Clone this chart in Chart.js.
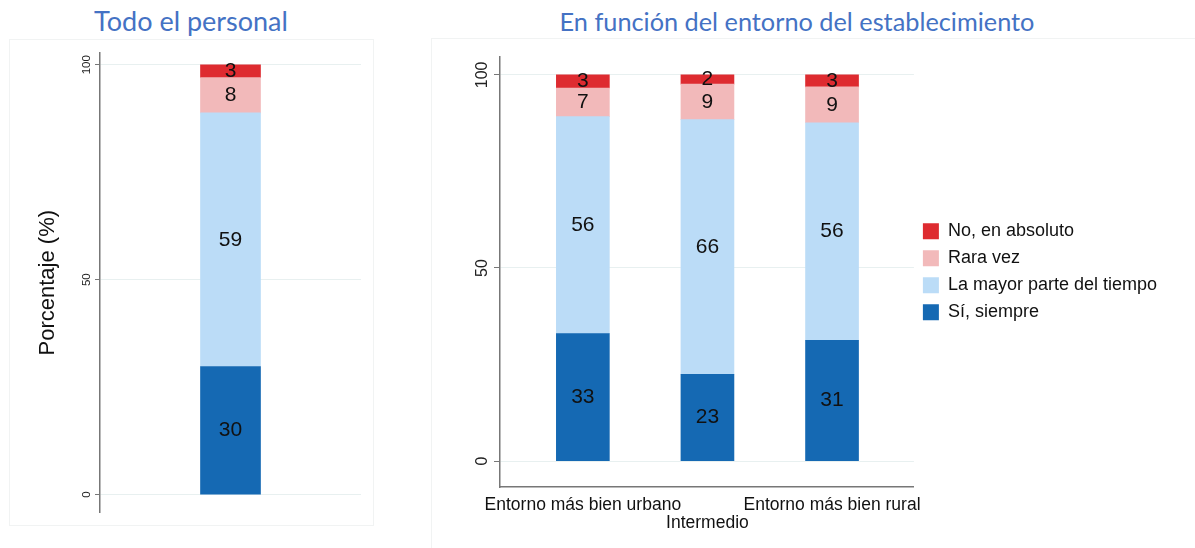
<!DOCTYPE html>
<html>
<head>
<meta charset="utf-8">
<script src="https://cdn.jsdelivr.net/npm/chart.js@4"></script>
<style>
  body { margin: 0; background: #fff; width: 1195px; height: 548px; overflow: hidden; position: relative; }
  .titulo { position: absolute; top: 7px; font-family: Lato, sans-serif; font-size: 27px; line-height: 27px;
            color: #4472c4; white-space: nowrap; transform: translateX(-50%); }
  .marco { position: absolute; border: 1px solid #f1f3f3; box-sizing: border-box; }
  .panel { position: absolute; }
</style>
</head>
<body>
<div class="titulo" style="left:191px">Todo el personal</div>
<div class="titulo" style="left:797px;font-size:25.3px;top:8px">En función del entorno del establecimiento</div>
<div class="marco" style="left:9px;top:39px;width:365px;height:487px"></div>
<div class="marco" style="left:431px;top:38px;width:770px;height:512px"></div>
<div class="panel" style="left:10px;top:40px;width:363px;height:485px"><canvas id="total"></canvas></div>
<div class="panel" style="left:432px;top:40px;width:763px;height:505px"><canvas id="entorno"></canvas></div>

<script>
// categorías de respuesta, de abajo a arriba
const segmentos = ['Sí, siempre', 'La mayor parte del tiempo', 'Rara vez', 'No, en absoluto'];
const colores = ['#1569b3', '#bbdcf7', '#f2b9ba', '#de2b30'];

// todo el personal (mismo orden que segmentos)
const todoPersonal = [29.8, 59.0, 8.2, 3.0];

// por entorno
const entornos = ['Entorno más bien urbano', 'Intermedio', 'Entorno más bien rural'];
const siempre    = [33.0, 22.5, 31.3];
const mayorParte = [56.2, 65.9, 56.3];
const raraVez    = [7.4, 9.2, 9.3];
const noAbsoluto = [3.4, 2.4, 3.1];

const ticksY = [0, 50, 100];

const fuente = '"Liberation Sans", Arial, sans-serif';
Chart.defaults.font.family = fuente;

// valores dentro de cada tramo
const etiquetas = {
  id: 'etiquetas',
  afterDatasetsDraw(chart) {
    const ctx = chart.ctx;
    ctx.save();
    ctx.font = '21px ' + fuente;
    ctx.fillStyle = '#111';
    ctx.textAlign = 'center';
    ctx.textBaseline = 'middle';
    chart.data.datasets.forEach((ds, i) => {
      chart.getDatasetMeta(i).data.forEach((bar, j) => {
        const v = ds.data[j];
        const val = typeof v === 'object' ? v.y : v;
        ctx.fillText(Math.round(val), bar.x, (bar.y + bar.base) / 2);
      });
    });
    ctx.restore();
  }
};

// etiquetas del eje y giradas (como en Stata)
const ticksGirados = {
  id: 'ticksGirados',
  afterDraw(chart, args, opts) {
    const s = chart.scales.y;
    const ctx = chart.ctx;
    ctx.save();
    ctx.font = opts.size + 'px ' + fuente;
    ctx.fillStyle = '#222';
    ctx.textAlign = 'center';
    ctx.textBaseline = 'alphabetic';
    s.ticks.forEach(t => {
      ctx.save();
      ctx.translate(s.right - opts.gap, s.getPixelForValue(t.value));
      ctx.rotate(-Math.PI / 2);
      ctx.fillText(String(t.value), 0, 0);
      ctx.restore();
    });
    ctx.restore();
  }
};

function ejeY(min, max, ancho, largoTick) {
  return {
    stacked: true,
    min: min,
    max: max,
    afterBuildTicks: s => { s.ticks = ticksY.map(v => ({ value: v })); },
    afterFit: s => { s.width = ancho; },
    ticks: { display: false },
    grid: { color: '#e8f0f0', tickColor: '#777', tickLength: largoTick },
    border: { color: '#777', width: 1.5 }
  };
}

// panel izquierdo
const y1 = ejeY(-4.2, 102.8, 90, 5);
y1.title = { display: true, text: 'Porcentaje (%)', color: '#111', font: { size: 22 }, padding: { top: 25 } };

new Chart(document.getElementById('total'), {
  type: 'bar',
  data: {
    labels: [''],
    datasets: segmentos.map((s, i) => ({
      label: s,
      data: [todoPersonal[i]],
      backgroundColor: colores[i],
      barThickness: 60
    }))
  },
  options: {
    responsive: true,
    maintainAspectRatio: false,
    animation: false,
    layout: { padding: { top: 12.7, right: 12, bottom: 12.3, left: 0 } },
    plugins: {
      legend: { display: false },
      tooltip: { enabled: false },
      ticksGirados: { size: 11.5, gap: 10 }
    },
    scales: {
      x: { display: false, stacked: true },
      y: y1
    }
  },
  plugins: [etiquetas, ticksGirados]
});

// panel derecho
const series = [siempre, mayorParte, raraVez, noAbsoluto];

new Chart(document.getElementById('entorno'), {
  type: 'bar',
  data: {
    datasets: series.map((arr, k) => ({
      label: segmentos[k],
      data: arr.map((v, i) => ({ x: i + 1, y: v })),
      backgroundColor: colores[k],
      barThickness: 53
    }))
  },
  options: {
    responsive: true,
    maintainAspectRatio: false,
    animation: false,
    layout: { padding: { top: 16.7, right: 28, bottom: 0, left: 0 } },
    plugins: {
      tooltip: { enabled: false },
      ticksGirados: { size: 16, gap: 13 },
      legend: {
        position: 'right',
        fullSize: false,
        reverse: true,
        maxWidth: 320,
        labels: { boxWidth: 16, boxHeight: 16, padding: 9, color: '#111', font: { size: 18 } }
      }
    },
    scales: {
      x: {
        type: 'linear',
        stacked: true,
        offset: false,
        min: 0.335,
        max: 3.657,
        afterBuildTicks: s => { s.ticks = entornos.map((_, i) => ({ value: i + 1 })); },
        afterFit: s => { s.height = 58; },
        ticks: {
          autoSkip: false,
          maxRotation: 0,
          padding: 8.8,
          color: '#111',
          font: { size: 17.5, lineHeight: 1.05 },
          callback: v => v === 2 ? ['', entornos[1]] : entornos[v - 1]
        },
        grid: { display: false, drawTicks: false },
        border: { color: '#777', width: 1.5 }
      },
      y: ejeY(-6.7, 104.7, 68, 6)
    }
  },
  plugins: [etiquetas, ticksGirados]
});
</script>
</body>
</html>
